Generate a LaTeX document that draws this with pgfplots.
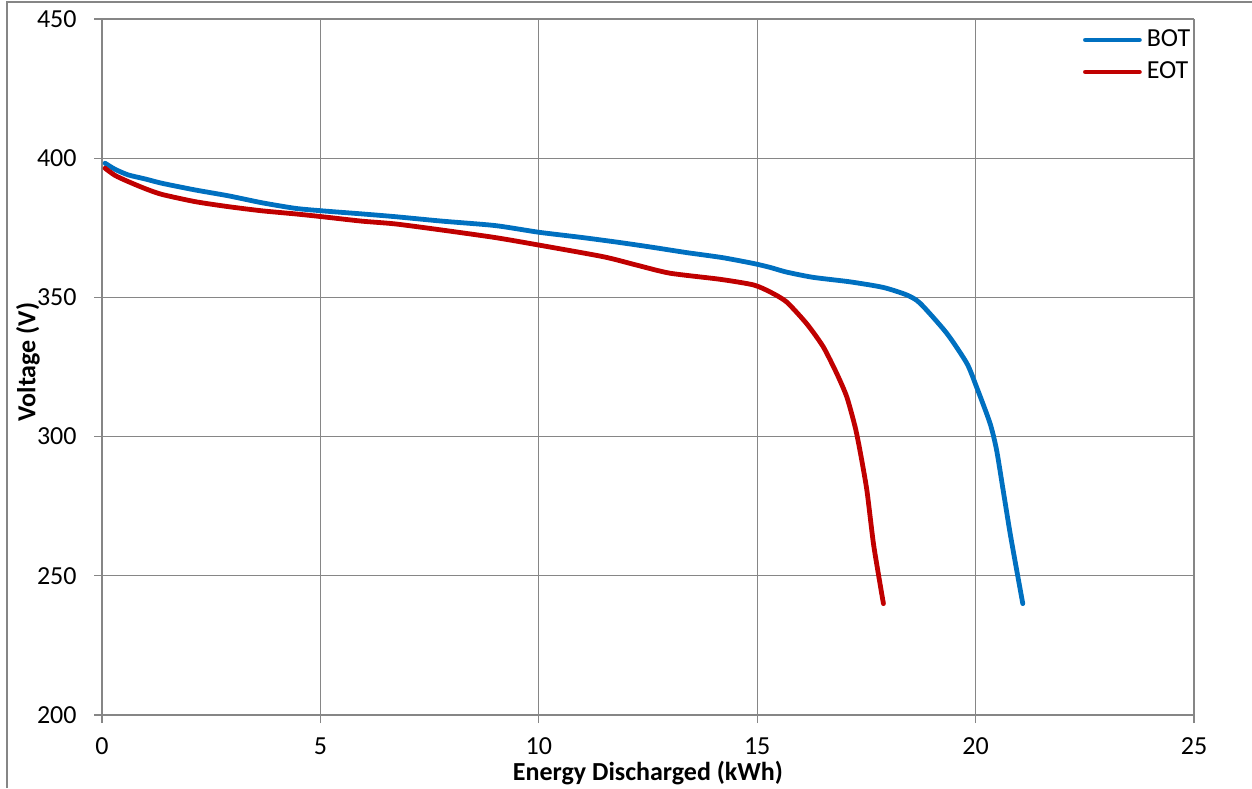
\documentclass[border=0pt]{standalone}
\usepackage{pgfplots}
\pgfplotsset{compat=1.18}
\usepackage{fontspec}
\setmainfont{Carlito}

\definecolor{botblue}{RGB}{0,112,192}
\definecolor{eotred}{RGB}{192,0,0}
\definecolor{gridgray}{RGB}{134,134,134}

\pgfplotstableread{
x y
0.07 398.2
0.30 396.0
0.60 394.0
1.00 392.5
1.37 391.0
2.13 388.6
2.89 386.5
3.66 384.0
4.42 382.0
5.03 381.1
5.94 380.0
6.71 379.0
7.78 377.4
9.00 375.8
10.00 373.4
11.00 371.5
11.86 369.7
12.60 368.0
13.38 366.1
14.20 364.3
14.91 362.2
15.29 360.8
15.67 359.1
16.28 357.2
17.12 355.6
17.88 353.6
18.42 350.9
18.73 347.9
19.34 337.1
19.80 326.3
20.02 317.9
20.33 304.8
20.48 295.2
20.63 280.8
20.79 265.3
20.94 252.1
21.08 240.0
}\botdata

\pgfplotstableread{
x y
0.07 396.4
0.30 393.8
0.60 391.6
1.00 389.0
1.37 387.0
2.13 384.4
2.89 382.6
3.66 381.1
4.42 380.0
5.03 379.0
5.94 377.4
6.71 376.4
7.78 374.2
9.00 371.5
10.00 368.8
11.48 364.6
12.24 361.6
13.00 358.7
14.15 356.5
14.91 354.5
15.29 352.0
15.67 348.4
16.13 340.6
16.51 332.3
16.82 322.7
17.05 314.3
17.24 303.6
17.35 295.2
17.51 280.8
17.66 261.7
17.81 247.3
17.89 240.0
}\eotdata

\begin{document}
\begin{tikzpicture}
\path[use as bounding box] (0,0) rectangle (626pt,394pt);
% chart frame
\draw[gridgray, line width=0.6pt] (3.5pt,0) -- (3.5pt,393pt) -- (626pt,393pt);
\begin{axis}[
  at={(51pt,36.5pt)}, anchor=south west,
  scale only axis,
  width=546pt, height=348pt,
  xmin=0, xmax=25, ymin=200, ymax=450,
  xtick={0,5,...,25}, ytick={200,250,...,450},
  grid=major,
  grid style={gridgray, line width=0.6pt},
  axis line style={gridgray, line width=0.6pt},
  tick style={gridgray, line width=0.6pt},
  tick align=outside,
  major tick length=4pt,
  xtick pos=bottom, ytick pos=left,
  axis x line*=bottom, axis y line*=left,
  /pgf/number format/assume math mode=true,
  ticklabel style={font=\fontsize{13}{15}\selectfont},
  xticklabel style={anchor=base, inner sep=0pt, yshift=-15.5pt},
  yticklabel style={anchor=east, inner sep=0pt, xshift=-8.5pt},
  xlabel={Energy Discharged (kWh)},
  ylabel={Voltage (V)},
  xlabel style={font=\bfseries\fontsize{13}{15}\selectfont, at={(axis description cs:0.5,0)}, anchor=base, inner sep=0pt, yshift=-32.5pt},
  ylabel style={font=\bfseries\fontsize{13}{15}\selectfont, at={(axis description cs:0,0.5)}, anchor=center, yshift=37pt, xshift=2.5pt},
  legend style={at={(axis description cs:0.898,0.9727)}, anchor=west, yshift=-11pt, draw=none, fill=none,
    font=\fontsize{13}{15}\selectfont, inner sep=0pt, row sep=0pt,
    nodes={inner sep=0pt, text height=9.5pt, text depth=6.5pt}},
  legend cell align=left,
  legend image code/.code={\draw[#1, line cap=round] (0pt,2pt) -- (27pt,2pt);},
]
\addplot[botblue, line width=2.4pt, line cap=round, line join=round, smooth, tension=0.4] table[x=x,y=y] {\botdata};
\addlegendentry{\hspace{2.5pt}BOT}
\addplot[eotred, line width=2.4pt, line cap=round, line join=round, smooth, tension=0.4] table[x=x,y=y] {\eotdata};
\addlegendentry{\hspace{2.5pt}EOT}
\end{axis}
\end{tikzpicture}
\end{document}
